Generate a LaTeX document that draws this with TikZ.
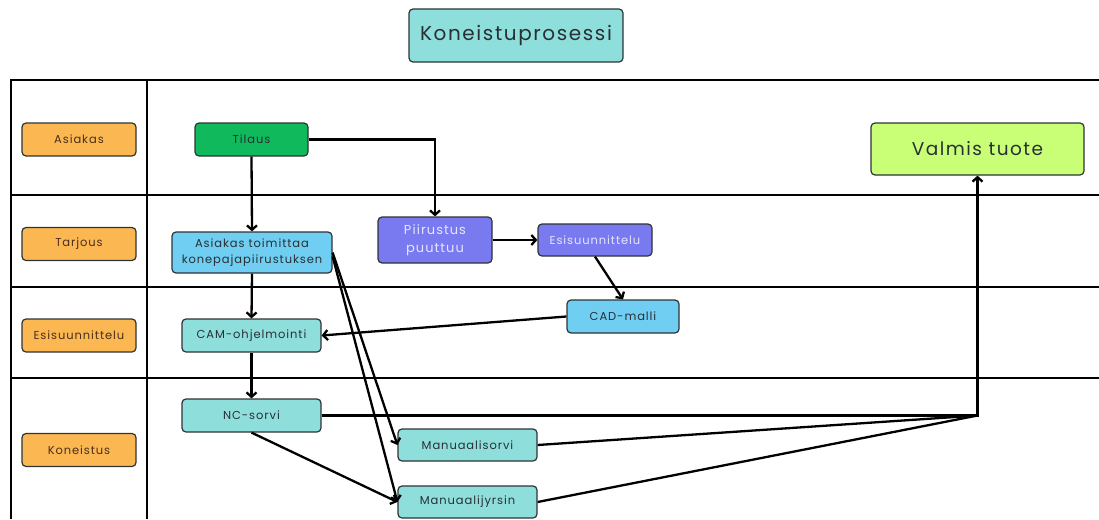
\documentclass[tikz,border=0pt]{standalone}
\usepackage{fontspec}
\setmainfont{Poppins}[LetterSpace=8]
\usetikzlibrary{arrows.meta}

\definecolor{laneorange}{RGB}{251,183,82}
\definecolor{ordergreen}{RGB}{16,186,92}
\definecolor{stepteal}{RGB}{142,222,220}
\definecolor{stepblue}{RGB}{112,206,242}
\definecolor{steppurple}{RGB}{122,122,240}
\definecolor{donelime}{RGB}{200,255,118}
\definecolor{boxline}{RGB}{45,52,54}
\definecolor{boxtext}{RGB}{40,48,52}
\definecolor{lanetext}{RGB}{74,48,28}
\definecolor{purpletext}{RGB}{228,230,255}

\begin{document}
\begin{tikzpicture}[x=1pt, y=-1pt,
        box/.style={draw=boxline, line width=1.2pt, rounded corners=4pt, text=boxtext,
                font=\fontsize{11.5}{16}\selectfont, align=center, inner sep=0pt},
        lane/.style={box, fill=laneorange, text=lanetext, minimum width=114pt, minimum height=33pt},
        stepbox/.style={box, fill=stepteal, minimum width=139pt, minimum height=33pt},
        link/.style={line width=2.3pt},
        flow/.style={link, -{Straight Barb[length=4.5pt, width=10pt]}},
        grid/.style={black, line width=2.4pt}]
        \useasboundingbox (0,0) rectangle (1099,519);

        \draw [grid] (1099,80) -- (11,80) -- (11,519);
        \draw [grid] (147,80) -- (147,519);
        \draw [grid] (11,195) -- (1099,195);
        \draw [grid] (11,287) -- (1099,287);
        \draw [grid] (11,378) -- (1099,378);

        \node [box, fill=stepteal, minimum width=214pt, minimum height=53pt, font=\fontsize{20}{24}\selectfont] (title) at (516,35.5) {Koneistuprosessi};

        \node [lane] (asiakas) at (79,139.5) {Asiakas};
        \node [lane] (tarjous) at (79,244) {Tarjous};
        \node [lane] (esisuunn) at (79,335.5) {Esisuunnittelu};
        \node [lane] (koneistus) at (79,450) {Koneistus};

        \node [box, fill=ordergreen, minimum width=113pt, minimum height=33pt] (tilaus) at (251.5,139.5) {Tilaus};
        \node [box, fill=stepblue, minimum width=160pt, minimum height=41pt] (toimittaa) at (252,252.5) {Asiakas toimittaa\\konepajapiirustuksen};
        \node [box, fill=steppurple, text=purpletext, minimum width=114pt, minimum height=46pt, font=\fontsize{13}{18.5}\selectfont] (puuttuu) at (435,240) {Piirustus\\puuttuu};
        \node [box, fill=steppurple, text=purpletext, minimum width=114pt, minimum height=32pt] (esisuunnittelu) at (595,240) {Esisuunnittelu};
        \node [box, fill=stepblue, minimum width=112pt, minimum height=33pt] (cadmalli) at (623,316.5) {CAD-malli};
        \node [stepbox] (cam) at (251.5,335.5) {CAM-ohjelmointi};
        \node [stepbox] (ncsorvi) at (251.5,415.5) {NC-sorvi};
        \node [stepbox, minimum height=32pt] (msorvi) at (467.5,445) {Manuaalisorvi};
        \node [stepbox, minimum height=32pt] (mjyrsin) at (467.5,502) {Manuaalijyrsin};
        \node [box, fill=donelime, minimum width=213pt, minimum height=52pt, font=\fontsize{18.5}{22}\selectfont] (valmis) at (977.5,149) {Valmis tuote};

        \coordinate (join) at (977.5,415.5);

        \draw [flow] (tilaus.south) -- (toimittaa.north);
        \draw [flow] (tilaus.east) -| (puuttuu.north);
        \draw [flow] (puuttuu.east) -- (esisuunnittelu.west);
        \draw [flow] (esisuunnittelu.south) -- (cadmalli.north);
        \draw [flow] (cadmalli.west) -- (cam.east);
        \draw [flow] (toimittaa.south) -- (cam.north);
        \draw [flow] (cam.south) -- (ncsorvi.north);
        \draw [flow] (toimittaa.east) -- (msorvi.west);
        \draw [flow] ([yshift=-4pt]toimittaa.east) -- (mjyrsin.west);
        \draw [flow] (ncsorvi.south) -- (mjyrsin.west);
        \draw [flow] (ncsorvi.east) -- (join) -- (valmis.south);
        \draw [link] (msorvi.east) -- (join);
        \draw [link] (mjyrsin.east) -- (join);
    \end{tikzpicture}
\end{document}
